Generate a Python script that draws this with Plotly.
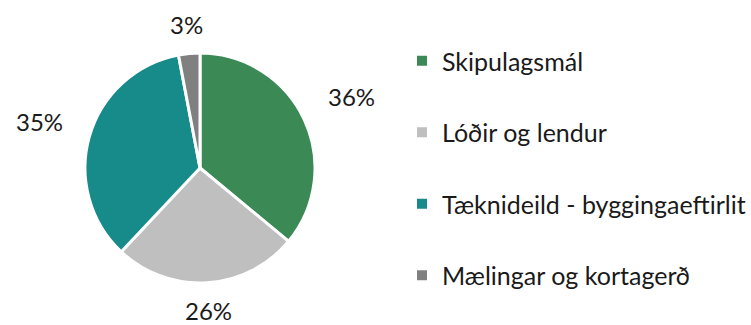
import math
import plotly.graph_objects as go

# Distribution of cases by department (percent)
categories = ["Skipulagsmál", "Lóðir og lendur", "Tæknideild - byggingaeftirlit", "Mælingar og kortagerð"]
values = [36, 26, 35, 3]
colors = ["#3B8A55", "#BFBFBF", "#178A8A", "#808080"]

W, H = 751, 325
CX, CY, R = 200, 168, 115          # pie centre and radius in pixels
FONT = "Lato, 'Open Sans', sans-serif"

fig = go.Figure()

fig.add_trace(go.Pie(
    labels=categories,
    values=values,
    marker=dict(colors=colors, line=dict(color="white", width=3)),
    sort=False,
    direction="clockwise",
    rotation=0,
    textinfo="none",
    hoverinfo="label+percent",
    showlegend=False,
    domain=dict(x=[(CX - R) / W, (CX + R) / W],
                y=[1 - (CY + R) / H, 1 - (CY - R) / H]),
))

# Legend entries (one group each so they can be spaced apart)
for name, col in zip(categories, colors):
    fig.add_trace(go.Scatter(
        x=[None], y=[None], mode="markers", name=name,
        marker=dict(symbol="square", size=10, color=col),
        legendgroup=name, showlegend=True,
    ))

# Percentage labels placed outside each slice at its mid-angle
total = sum(values)
start = 0.0
annotations = []
for v in values:
    span = 360.0 * v / total
    mid = math.radians(start + span / 2)
    start += span
    s, c = math.sin(mid), math.cos(mid)
    d = R + 15 + 14 * abs(s) + abs(s) * 22 + abs(c) * 11
    px, py = CX + d * s, CY - d * c
    annotations.append(dict(
        x=px / W, y=1 - py / H, xref="paper", yref="paper",
        text=f"{round(100 * v / total)}%", showarrow=False,
        xanchor="center", yanchor="middle", borderpad=0,
        font=dict(family=FONT, size=24, color="#1a1a1a"),
    ))

fig.update_layout(
    width=W, height=H,
    margin=dict(l=0, r=0, t=0, b=0, autoexpand=False),
    paper_bgcolor="white", plot_bgcolor="white",
    xaxis=dict(visible=False), yaxis=dict(visible=False),
    annotations=annotations,
    legend=dict(
        x=(420 - 18) / W, y=1 - 38 / H, xanchor="left", yanchor="top",
        font=dict(family=FONT, size=25, color="#1a1a1a"),
        tracegroupgap=36, itemclick=False,
        bgcolor="rgba(0,0,0,0)",
    ),
)

fig.write_html("out.html")
